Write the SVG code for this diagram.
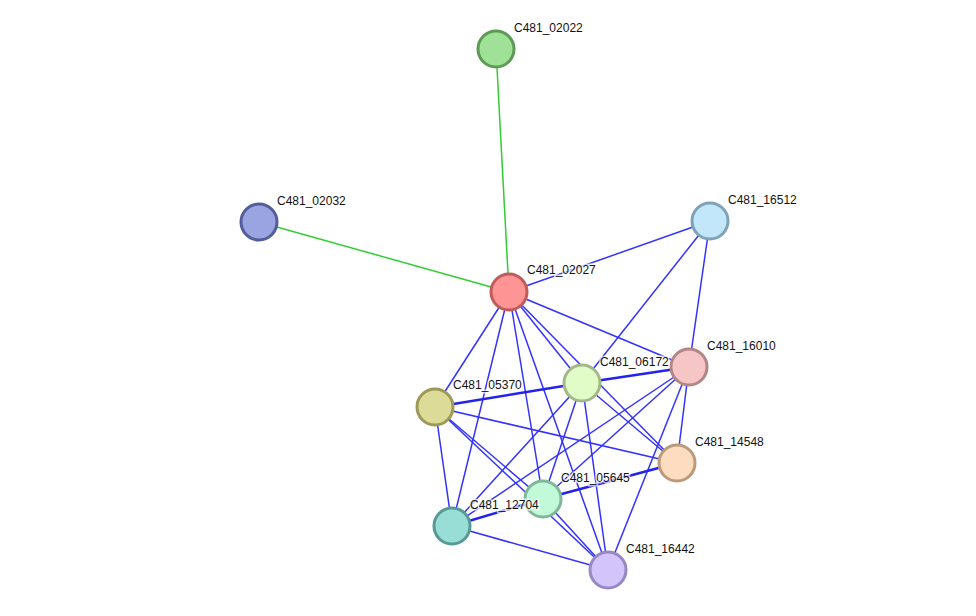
<svg xmlns="http://www.w3.org/2000/svg" width="976" height="616" viewBox="0 0 976 616">
<style>
.e{stroke:#3333ff;stroke-width:1.5;fill:none}
.b{stroke:#2222ee;stroke-width:2.5;fill:none}
.g{stroke:#33cc33;stroke-width:1.5;fill:none}
.n circle{stroke-width:3}
.n text{font-family:"Liberation Sans",Arial,sans-serif;font-size:12px;fill:#111;stroke:#fff;stroke-width:3;stroke-opacity:0.7;paint-order:stroke}
</style>
<rect width="976" height="616" fill="#fff"/>
<g id="edges">
<line class="g" x1="496" y1="49" x2="509" y2="292"/>
<line class="g" x1="259" y1="222" x2="509" y2="292"/>
<line class="e" x1="509" y1="292" x2="710" y2="221"/>
<line class="e" x1="509" y1="292" x2="689" y2="367"/>
<line class="e" x1="509" y1="292" x2="582" y2="383"/>
<line class="e" x1="509" y1="292" x2="677" y2="463"/>
<line class="e" x1="509" y1="292" x2="435" y2="407"/>
<line class="e" x1="509" y1="292" x2="452" y2="526"/>
<line class="e" x1="509" y1="292" x2="543" y2="499"/>
<line class="e" x1="509" y1="292" x2="608" y2="570"/>
<line class="e" x1="710" y1="221" x2="582" y2="383"/>
<line class="e" x1="710" y1="221" x2="689" y2="367"/>
<line class="e" x1="582" y1="383" x2="677" y2="463"/>
<line class="e" x1="582" y1="383" x2="452" y2="526"/>
<line class="e" x1="582" y1="383" x2="543" y2="499"/>
<line class="e" x1="582" y1="383" x2="608" y2="570"/>
<line class="e" x1="689" y1="367" x2="452" y2="526"/>
<line class="e" x1="689" y1="367" x2="543" y2="499"/>
<line class="e" x1="689" y1="367" x2="677" y2="463"/>
<line class="e" x1="689" y1="367" x2="608" y2="570"/>
<line class="e" x1="435" y1="407" x2="677" y2="463"/>
<line class="e" x1="435" y1="407" x2="452" y2="526"/>
<line class="e" x1="435" y1="407" x2="543" y2="499"/>
<line class="e" x1="435" y1="407" x2="608" y2="570"/>
<line class="e" x1="543" y1="499" x2="608" y2="570"/>
<line class="e" x1="452" y1="526" x2="608" y2="570"/>
<line class="b" x1="435" y1="407" x2="582" y2="383"/>
<line class="b" x1="582" y1="383" x2="689" y2="367"/>
<line class="b" x1="543" y1="499" x2="677" y2="463"/>
<line class="b" x1="452" y1="526" x2="543" y2="499"/>
</g>
<g id="C481_02022" class="n"><circle cx="496" cy="49" r="18" fill="#9fe196" stroke="#5d9a56"/><text x="514" y="32">C481_02022</text></g>
<g id="C481_02032" class="n"><circle cx="259" cy="222" r="18" fill="#9aa4e1" stroke="#525d9b"/><text x="277" y="205">C481_02032</text></g>
<g id="C481_16512" class="n"><circle cx="710" cy="221" r="18" fill="#c2e7fb" stroke="#7ea3b9"/><text x="728" y="204">C481_16512</text></g>
<g id="C481_02027" class="n"><circle cx="509" cy="292" r="18" fill="#fe9494" stroke="#bf5b5b"/><text x="527" y="274">C481_02027</text></g>
<g id="C481_16010" class="n"><circle cx="689" cy="367" r="18" fill="#f6c6c7" stroke="#b28586"/><text x="707" y="350">C481_16010</text></g>
<g id="C481_06172" class="n"><circle cx="582" cy="383" r="18" fill="#e1fcc6" stroke="#a1b988"/><text x="600" y="366">C481_06172</text></g>
<g id="C481_05370" class="n"><circle cx="435" cy="407" r="18" fill="#dcdb97" stroke="#9c9a58"/><text x="453" y="389">C481_05370</text></g>
<g id="C481_14548" class="n"><circle cx="677" cy="463" r="18" fill="#fedcbf" stroke="#bb9a7b"/><text x="695" y="446">C481_14548</text></g>
<g id="C481_05645" class="n"><circle cx="543" cy="499" r="18" fill="#c1fad8" stroke="#7eb897"/><text x="561" y="482">C481_05645</text></g>
<g id="C481_12704" class="n"><circle cx="452" cy="526" r="18" fill="#99ddd7" stroke="#559a94"/><text x="470" y="509">C481_12704</text></g>
<g id="C481_16442" class="n"><circle cx="608" cy="570" r="18" fill="#d3c4fc" stroke="#9888c1"/><text x="626" y="553">C481_16442</text></g>
</svg>
